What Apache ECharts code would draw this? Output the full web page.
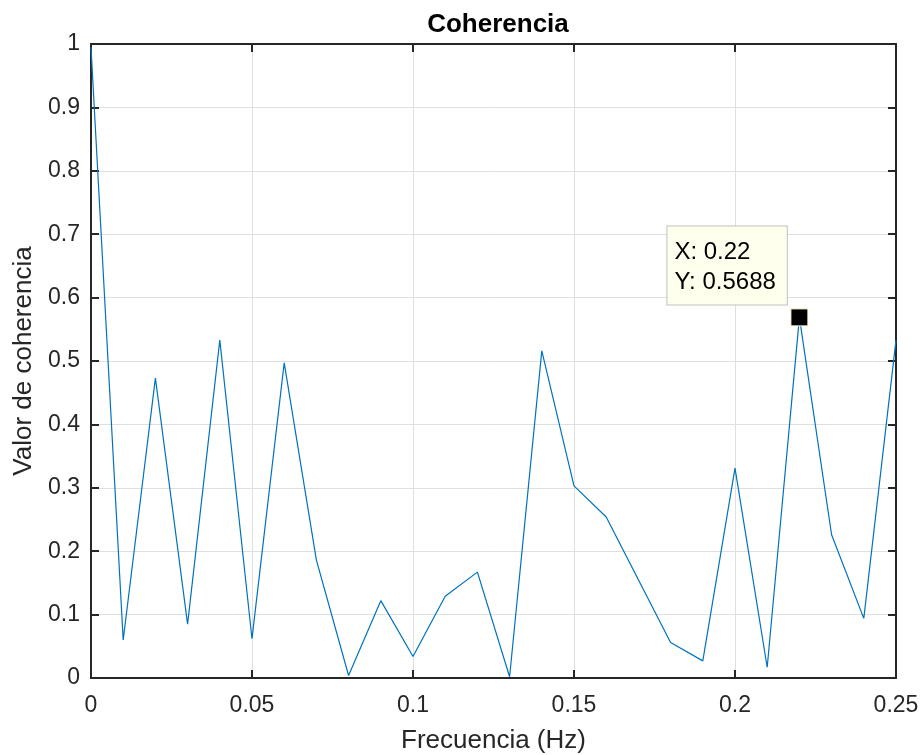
<!DOCTYPE html>
<html><head><meta charset="utf-8">
<script src="https://cdn.jsdelivr.net/npm/echarts@6/dist/echarts.min.js"></script>
<style>html,body{margin:0;padding:0;background:#fff}#c{width:922px;height:755px}</style>
</head><body><div id="c"></div>
<script>
const frequencies = [0,0.01,0.02,0.03,0.04,0.05,0.06,0.07,0.08,0.09,0.10,0.11,0.12,0.13,0.14,0.15,0.16,0.17,0.18,0.19,0.20,0.21,0.22,0.23,0.24,0.25];
const coherence   = [0.995,0.060,0.473,0.085,0.533,0.062,0.497,0.186,0.004,0.122,0.034,0.129,0.167,0.002,0.516,0.303,0.254,0.155,0.056,0.027,0.331,0.017,0.5688,0.226,0.094,0.533];
const datatipX = 0.22;
const datatipY = 0.5688;
const titleText = 'Coherencia';
const xName = 'Frecuencia (Hz)';
const yName = 'Valor de coherencia';

const FONT = '"Liberation Sans", Arial, Helvetica, sans-serif';
const DARK = '#262626';
const chart = echarts.init(document.getElementById('c'), null, {renderer:'canvas'});
const gridLine = {show:true, lineStyle:{color:'#dfdfdf', width:1}};
const axisCommon = {
  axisLine:{show:true, onZero:false, lineStyle:{color:DARK, width:2}},
  axisTick:{show:true, inside:true, length:8, lineStyle:{color:DARK, width:2}},
};
chart.setOption({
  animation:false,
  backgroundColor:'#fff',
  title:{text:titleText, left:493, textAlign:'center', top:7,
    textStyle:{fontFamily:FONT, fontSize:26, fontWeight:'bold', color:'#000'}},
  grid:{left:91, right:26, top:44, bottom:77, containLabel:false, outerBoundsMode:'none'},
  xAxis:[
    Object.assign({type:'value', min:0, max:0.25, interval:0.05, position:'bottom',
      name:xName, nameLocation:'middle', nameGap:50,
      nameTextStyle:{fontFamily:FONT, fontSize:26, color:DARK},
      axisLabel:{fontFamily:FONT, fontSize:23, color:DARK, margin:16},
      splitLine:gridLine}, axisCommon),
    Object.assign({type:'value', min:0, max:0.25, interval:0.05, position:'top',
      axisLabel:{show:false}, splitLine:{show:false}}, axisCommon)
  ],
  yAxis:[
    Object.assign({type:'value', min:0, max:1, interval:0.1, position:'left',
      name:yName, nameLocation:'middle', nameGap:52,
      nameTextStyle:{fontFamily:FONT, fontSize:26, color:DARK},
      axisLabel:{fontFamily:FONT, fontSize:23, color:DARK, margin:11},
      splitLine:gridLine}, axisCommon),
    Object.assign({type:'value', min:0, max:1, interval:0.1, position:'right',
      axisLabel:{show:false}, splitLine:{show:false}}, axisCommon)
  ],
  series:[
    {type:'line', data:frequencies.map((f,i)=>[f, coherence[i]]), showSymbol:false,
      symbol:'none', lineStyle:{color:'#0072BD', width:1.2}, z:2},
    {type:'scatter', data:[[datatipX, datatipY]], symbol:'rect', symbolSize:17,
      itemStyle:{color:'#000', opacity:1, borderColor:'#fffad0', borderWidth:1}, z:5,
      label:{show:true, position:[-123,-82], align:'left', verticalAlign:'top',
        formatter:'X: ' + datatipX + '\nY: ' + datatipY,
        fontFamily:FONT, fontSize:24, color:'#000', lineHeight:30,
        backgroundColor:'#ffffee', borderColor:'#c0c0c0', borderWidth:1,
        padding:[11,11,7,7]}}
  ]
});
</script></body></html>
